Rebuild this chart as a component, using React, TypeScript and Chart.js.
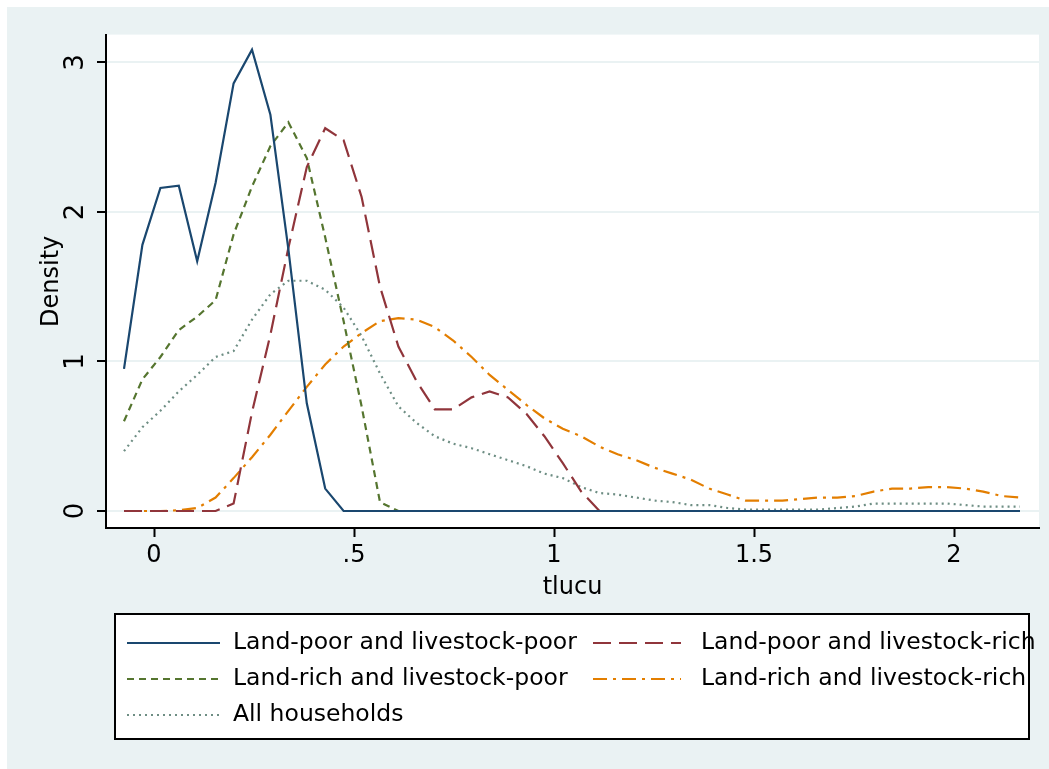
import React, { useEffect, useRef } from "react";
import { Chart, registerables } from "chart.js";

Chart.register(...registerables);

// Evaluation points of the kernel densities (tlucu)
const xGrid = [
  -0.075, -0.029, 0.016, 0.062, 0.108, 0.154, 0.199, 0.245, 0.291, 0.336,
  0.382, 0.428, 0.474, 0.519, 0.565, 0.611, 0.656, 0.702, 0.748, 0.794,
  0.839, 0.885, 0.931, 0.976, 1.022, 1.068, 1.114, 1.159, 1.205, 1.251,
  1.296, 1.342, 1.388, 1.434, 1.479, 1.525, 1.571, 1.616, 1.662, 1.708,
  1.754, 1.799, 1.845, 1.891, 1.936, 1.982, 2.028, 2.073, 2.119, 2.165,
];

const landPoorLivestockPoor = [
  0.95, 1.78, 2.16, 2.175, 1.67, 2.195, 2.86, 3.085, 2.65, 1.75,
  0.72, 0.15, 0, 0, 0, 0, 0, 0, 0, 0,
  0, 0, 0, 0, 0, 0, 0, 0, 0, 0,
  0, 0, 0, 0, 0, 0, 0, 0, 0, 0,
  0, 0, 0, 0, 0, 0, 0, 0, 0, 0,
];

const landPoorLivestockRich = [
  0, 0, 0, 0, 0, 0, 0.05, 0.66, 1.18, 1.76,
  2.3, 2.56, 2.48, 2.1, 1.5, 1.1, 0.87, 0.68, 0.68, 0.76,
  0.8, 0.76, 0.65, 0.5, 0.32, 0.13, 0, 0, 0, 0,
  0, 0, 0, 0, 0, 0, 0, 0, 0, 0,
  0, 0, 0, 0, 0, 0, 0, 0, 0, 0,
];

const landRichLivestockPoor = [
  0.6, 0.88, 1.03, 1.21, 1.3, 1.41, 1.85, 2.17, 2.44, 2.6,
  2.36, 1.83, 1.27, 0.7, 0.06, 0, 0, 0, 0, 0,
  0, 0, 0, 0, 0, 0, 0, 0, 0, 0,
  0, 0, 0, 0, 0, 0, 0, 0, 0, 0,
  0, 0, 0, 0, 0, 0, 0, 0, 0, 0,
];

const landRichLivestockRich = [
  0, 0, 0, 0.005, 0.02, 0.09, 0.22, 0.36, 0.51, 0.67,
  0.83, 0.98, 1.1, 1.19, 1.27, 1.29, 1.28, 1.23, 1.14, 1.03,
  0.91, 0.81, 0.71, 0.62, 0.55, 0.5, 0.43, 0.38, 0.34, 0.29,
  0.25, 0.21, 0.15, 0.11, 0.07, 0.07, 0.07, 0.08, 0.09, 0.09,
  0.1, 0.13, 0.15, 0.15, 0.16, 0.16, 0.15, 0.13, 0.1, 0.09,
];

const allHouseholds = [
  0.4, 0.56, 0.67, 0.8, 0.91, 1.03, 1.07, 1.28, 1.45, 1.54,
  1.54, 1.48, 1.36, 1.17, 0.92, 0.7, 0.59, 0.5, 0.45, 0.42,
  0.38, 0.34, 0.3, 0.25, 0.22, 0.16, 0.12, 0.11, 0.09, 0.07,
  0.06, 0.04, 0.04, 0.02, 0.01, 0.01, 0.01, 0.01, 0.01, 0.02,
  0.03, 0.05, 0.05, 0.05, 0.05, 0.05, 0.04, 0.03, 0.03, 0.03,
];

const seriesLabels = [
  "Land-poor and livestock-poor",
  "Land-poor and livestock-rich",
  "Land-rich and livestock-poor",
  "Land-rich and livestock-rich",
  "All households",
];

const xTickValues = [0, 0.5, 1, 1.5, 2];
const xTickLabels = ["0", ".5", "1", "1.5", "2"];
const yTickValues = [0, 1, 2, 3];
const yTickLabels = ["0", "1", "2", "3"];

const FONT = "DejaVu Sans";
const BG = "#eaf2f3";

const seriesValues = [
  landPoorLivestockPoor,
  landPoorLivestockRich,
  landRichLivestockPoor,
  landRichLivestockRich,
  allHouseholds,
];
const seriesColors = ["#1a476f", "#90353b", "#55752f", "#e37e00", "#6e8e84"];
const seriesDashes: number[][] = [[], [18, 8], [7, 5], [14, 6, 3, 6], [2, 4]];

const backgroundPlugin = {
  id: "stataBackground",
  beforeDraw(chart: any) {
    const { ctx, chartArea, width, height } = chart;
    ctx.save();
    ctx.fillStyle = BG;
    ctx.fillRect(0, 0, width, height);
    ctx.fillStyle = "#ffffff";
    ctx.fillRect(chartArea.left, chartArea.top, chartArea.right - chartArea.left, chartArea.bottom - chartArea.top);
    ctx.restore();
  },
};

const legendPlugin = {
  id: "stataLegend",
  afterDraw(chart: any) {
    const { ctx } = chart;
    const box = { l: 108, t: 607, r: 1022, b: 732 };
    ctx.save();
    ctx.fillStyle = "#ffffff";
    ctx.fillRect(box.l, box.t, box.r - box.l, box.b - box.t);
    ctx.strokeStyle = "#000";
    ctx.lineWidth = 2;
    ctx.strokeRect(box.l, box.t, box.r - box.l, box.b - box.t);
    const cols = [
      { s0: 120, s1: 213, tx: 226 },
      { s0: 586, s1: 674, tx: 694 },
    ];
    const rows = [636, 672, 708];
    chart.data.datasets.forEach((ds: any, i: number) => {
      const c = cols[i % 2];
      const y = rows[Math.floor(i / 2)];
      ctx.beginPath();
      ctx.setLineDash(ds.borderDash || []);
      ctx.strokeStyle = ds.borderColor;
      ctx.lineWidth = 2;
      ctx.lineCap = "butt";
      ctx.moveTo(c.s0, y);
      ctx.lineTo(c.s1, y);
      ctx.stroke();
      ctx.setLineDash([]);
      ctx.fillStyle = "#000";
      ctx.font = `23.5px "${FONT}"`;
      ctx.textAlign = "left";
      ctx.textBaseline = "middle";
      ctx.fillText(ds.label, c.tx, y);
    });
    ctx.restore();
  },
};

export default function App() {
  const ref = useRef<HTMLCanvasElement | null>(null);

  useEffect(() => {
    if (!ref.current) return;
    const datasets = seriesValues.map((vals, k) => ({
      label: seriesLabels[k],
      data: xGrid.map((x, i) => ({ x, y: vals[i] })),
      borderColor: seriesColors[k],
      backgroundColor: seriesColors[k],
      borderWidth: 2.2,
      borderDash: seriesDashes[k],
      borderCapStyle: "butt" as const,
      pointRadius: 0,
      tension: 0,
      fill: false,
    }));
    const tickFont = { family: FONT, size: 24 };
    const chart = new Chart(ref.current, {
      type: "line",
      data: { datasets },
      options: {
        animation: false,
        responsive: false,
        devicePixelRatio: 1,
        layout: { padding: { left: 0, right: 10, top: 27, bottom: 167 } },
        plugins: { legend: { display: false }, tooltip: { enabled: false } },
        scales: {
          x: {
            type: "linear",
            min: -0.12,
            max: 2.2125,
            afterBuildTicks: (s: any) => {
              s.ticks = xTickValues.map((v) => ({ value: v }));
            },
            afterFit: (s: any) => {
              s.height = 74;
            },
            ticks: {
              autoSkip: false,
              maxRotation: 0,
              minRotation: 0,
              padding: 4,
              color: "#000",
              font: tickFont,
              callback: (_v: any, i: number) => xTickLabels[i],
            },
            grid: { drawOnChartArea: false, tickColor: "#000", tickLength: 9, tickWidth: 2 },
            border: { display: true, color: "#000", width: 2 },
            title: { display: true, text: "tlucu", color: "#000", font: { family: FONT, size: 24 }, padding: { top: 0, bottom: 0 } },
          },
          y: {
            type: "linear",
            min: -0.1136,
            max: 3.186,
            afterBuildTicks: (s: any) => {
              s.ticks = yTickValues.map((v) => ({ value: v }));
            },
            afterFit: (s: any) => {
              s.width = 99;
            },
            ticks: {
              autoSkip: false,
              minRotation: 90,
              maxRotation: 90,
              crossAlign: "center",
              padding: 12,
              color: "#000",
              font: { family: FONT, size: 26 },
              callback: (_v: any, i: number) => yTickLabels[i],
            },
            grid: { color: BG, lineWidth: 2, tickColor: "#000", tickLength: 9, tickWidth: 2 },
            border: { display: true, color: "#000", width: 2 },
            title: { display: true, text: "Density", color: "#000", font: { family: FONT, size: 24 }, padding: { top: 30, bottom: 0 } },
          },
        },
      },
      plugins: [backgroundPlugin, legendPlugin],
    } as any);
    return () => chart.destroy();
  }, []);

  return (
    <div style={{ position: "absolute", left: 7, top: 7, width: 1042, height: 762, background: BG }}>
      <canvas ref={ref} width={1042} height={762} style={{ display: "block", width: 1042, height: 762 }} />
    </div>
  );
}
